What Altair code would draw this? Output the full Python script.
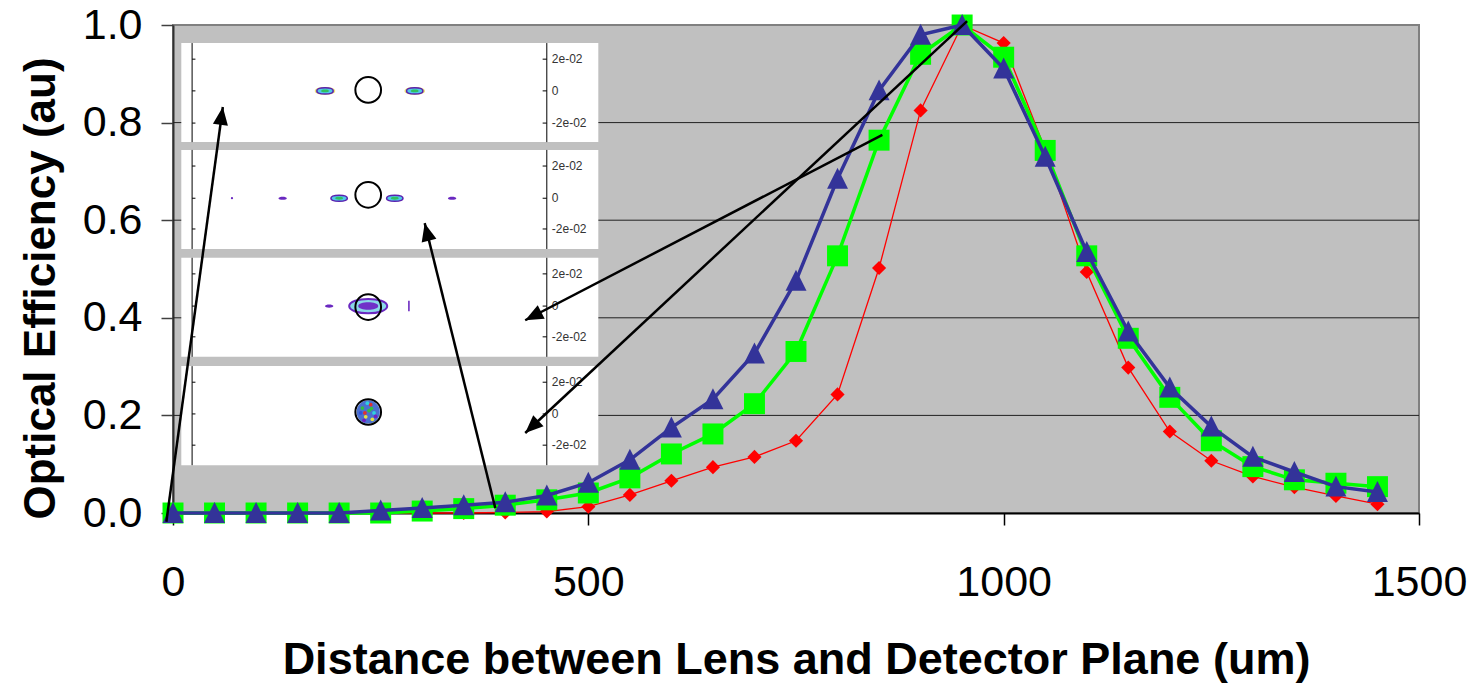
import math
import altair as alt
import pandas as pd

# ---- measured optical efficiency vs. lens-to-detector distance ----
distance_um = [0, 50, 100, 150, 200, 250, 300, 350, 400, 450,
               500, 550, 600, 650, 700, 750, 800, 850, 900, 950,
               1000, 1050, 1100, 1150, 1200, 1250, 1300, 1350, 1400, 1450]
eff_red = [0.0, 0.0, 0.0, 0.0, 0.0, 0.0, 0.0, 0.0, 0.001, 0.003,
           0.013, 0.037, 0.066, 0.094, 0.115, 0.148, 0.243, 0.502, 0.825, 1.0,
           0.963, 0.745, 0.494, 0.298, 0.167, 0.107, 0.075, 0.053, 0.035, 0.018]
eff_green = [0.0, 0.0, 0.0, 0.0, 0.0, 0.0, 0.004, 0.009, 0.016, 0.027,
             0.041, 0.072, 0.121, 0.162, 0.224, 0.331, 0.527, 0.764, 0.94, 1.0,
             0.934, 0.743, 0.527, 0.358, 0.237, 0.148, 0.095, 0.068, 0.061, 0.054]
eff_blue = [0.0, 0.0, 0.0, 0.0, 0.0, 0.005, 0.01, 0.016, 0.022, 0.036,
            0.062, 0.109, 0.175, 0.233, 0.327, 0.476, 0.685, 0.866, 0.98, 1.0,
            0.911, 0.73, 0.535, 0.372, 0.257, 0.177, 0.115, 0.084, 0.054, 0.043]

x_tick_values = [0, 500, 1000, 1500]
y_tick_values = [0.0, 0.2, 0.4, 0.6, 0.8, 1.0]
grid_levels = [0.2, 0.4, 0.6, 0.8]

# ---- spot-diagram insets (placed in data units) ----
inset_left, inset_right = 10, 512
inset_top = [0.963, 0.744, 0.523, 0.301]
inset_bottom = [0.760, 0.541, 0.320, 0.098]
inset_axis_l, inset_axis_r = 23, 450
inset_tick_rows = [[0.930, 0.865, 0.799], [0.711, 0.645, 0.582],
                   [0.490, 0.424, 0.361], [0.268, 0.203, 0.139]]
inset_tick_text = ["2e-02", "0", "-2e-02"]
aperture_x = 235
aperture_y = [0.867, 0.652, 0.422, 0.207]

# spot blobs: (x, y) per group
halo_x, halo_y = [183, 291], [0.865, 0.865]
ring_x, ring_y = [183, 291, 200, 267], [0.865, 0.865, 0.645, 0.645]
dash_x, dash_y = [132, 336, 188], [0.645, 0.645, 0.424]
dot_x, dot_y = [71], [0.645]
cluster_x, cluster_y = [235], [0.424]
bar_x, bar_y = [284], [0.424]
disc_x, disc_y = [235], [0.207]
speck_x = [228, 232, 238, 242, 230, 236, 240, 226, 234, 244, 231, 239]
speck_y = [0.215, 0.197, 0.222, 0.205, 0.190, 0.210, 0.192, 0.205, 0.225, 0.198, 0.205, 0.214]
speck_c = ["#30c040", "#e8e040", "#e03030", "#30d0e0", "#7020c0", "#30c040",
           "#e8e040", "#3050e0", "#30d0e0", "#7020c0", "#e03030", "#30c040"]

# ---- arrows linking curve points to insets ----
arrow_x0 = [-8, 388, 854, 956]
arrow_y0 = [-0.018, 0.010, 0.775, 1.008]
arrow_x1 = [60, 303, 424, 424]
arrow_y1 = [0.832, 0.594, 0.395, 0.164]

W, H = 1246, 488
FONT = "Liberation Sans"

xs = alt.Scale(domain=[0, 1500], nice=False, zero=False)
ys = alt.Scale(domain=[0, 1], nice=False, zero=False)

x_axis = alt.Axis(values=x_tick_values, format="d", grid=False, tickSize=12,
                  tickColor="black", tickWidth=1.5, domainColor="black", domainWidth=2,
                  labelFont=FONT, labelFontSize=43, labelColor="black",
                  labelBaseline="alphabetic", labelPadding=70, labelFlush=False,
                  labelOverlap=False, title="Distance between Lens and Detector Plane (um)",
                  titleFont=FONT, titleFontSize=45, titleFontWeight="bold",
                  titleColor="black", titleBaseline="alphabetic", titleY=160)
y_axis = alt.Axis(values=y_tick_values, format=".1f", grid=False, tickSize=12,
                  tickColor="#404040", tickWidth=1.5, domainColor="#303030", domainWidth=2,
                  labelFont=FONT, labelFontSize=43, labelColor="black",
                  labelPadding=19, labelFlush=False, labelOverlap=False,
                  title="Optical Efficiency (au)", titleFont=FONT, titleFontSize=44,
                  titleFontWeight="bold", titleColor="black",
                  titleBaseline="alphabetic", titleX=-119, titleY=263)


def X(f="x"):
    return alt.X(f"{f}:Q", scale=xs, axis=x_axis)


def Y(f="y"):
    return alt.Y(f"{f}:Q", scale=ys, axis=y_axis)


# horizontal grid
grid = alt.Chart(pd.DataFrame({"y": grid_levels})).mark_rule(
    color="#202020", strokeWidth=1).encode(
    x=alt.value(0), x2=alt.value(W), y=Y())
axis_carrier = alt.Chart(pd.DataFrame({"x": [0, 1500], "y": [0, 1]})).mark_point(
    opacity=0).encode(x=X(), y=Y())

panels = alt.Chart(pd.DataFrame({"x": [inset_left] * 4, "x2": [inset_right] * 4,
                                 "y": inset_top, "y2": inset_bottom})).mark_rect(
    color="white").encode(x=X(), x2="x2:Q", y=Y(), y2="y2:Q")

axis_lines = alt.Chart(pd.DataFrame({
    "x": [inset_axis_l] * 4 + [inset_axis_r] * 4,
    "y": inset_top * 2, "y2": inset_bottom * 2})).mark_rule(
    color="black", strokeWidth=1).encode(x=X(), y=Y(), y2="y2:Q")

tick_rows = []
for rows in inset_tick_rows:
    for r, t in zip(rows, inset_tick_text):
        tick_rows.append({"y": r, "t": t})
tick_df = pd.DataFrame(tick_rows)
left_ticks = alt.Chart(tick_df).transform_calculate(
    x=str(inset_axis_l), x2=str(inset_axis_l + 4)
).mark_rule(color="black", strokeWidth=1).encode(x=X(), x2="x2:Q", y=Y())
right_ticks = alt.Chart(tick_df).transform_calculate(
    x=str(inset_axis_r - 5), x2=str(inset_axis_r)
).mark_rule(color="black", strokeWidth=1).encode(x=X(), x2="x2:Q", y=Y())
tick_text = alt.Chart(tick_df).transform_calculate(x=str(inset_axis_r)).mark_text(
    align="left", baseline="middle", font=FONT, fontSize=12, color="#333333", dx=5
).encode(x=X(), y=Y(), text="t:N")

ELLIPSE = "M-1,0C-1,-0.5 1,-0.5 1,0C1,0.5 -1,0.5 -1,0Z"
BAR = "M-0.15,-1L0.15,-1L0.15,1L-0.15,1Z"


def pts(xv, yv, **kw):
    base = dict(opacity=1)
    base.update(kw)
    return alt.Chart(pd.DataFrame({"x": xv, "y": yv})).mark_point(**base).encode(x=X(), y=Y())


halos = pts(halo_x, halo_y, shape=ELLIPSE, size=420, filled=True, color="#ece070")
rings = pts(ring_x, ring_y, shape=ELLIPSE, size=270, filled=True, fill="#50c8e8",
            stroke="#5a20b0", strokeWidth=1.5)
cores = pts(ring_x, ring_y, shape=ELLIPSE, size=60, filled=True, color="#30c060")
dashes = pts(dash_x, dash_y, shape=ELLIPSE, size=70, filled=True, color="#6a28c0")
dots = pts(dot_x, dot_y, shape="circle", size=5, filled=True, color="#6a28c0")
cluster = pts(cluster_x, cluster_y, shape=ELLIPSE, size=1450, filled=True,
              fill="#8ad8e8", stroke="#6a28c0", strokeWidth=2)
cluster_core = pts(cluster_x, cluster_y, shape=ELLIPSE, size=400, filled=True, color="#7030c8")
bars = pts(bar_x, bar_y, shape=BAR, size=110, filled=True, color="#6a28c0")
disc = pts(disc_x, disc_y, shape="circle", size=540, filled=True, color="#4a70d0")
specks = alt.Chart(pd.DataFrame({"x": speck_x, "y": speck_y, "c": speck_c})).mark_point(
    shape="circle", size=14, filled=True, opacity=1).encode(
    x=X(), y=Y(), color=alt.Color("c:N", scale=None))
apertures = pts([aperture_x] * 4, aperture_y, shape="circle", size=660, filled=False,
                color="black", strokeWidth=2)

curve_df = pd.DataFrame({"x": distance_um, "red": eff_red,
                         "green": eff_green, "blue": eff_blue})


def series(field, color, width, shape, size):
    line = alt.Chart(curve_df).mark_line(color=color, strokeWidth=width).encode(
        x=X(), y=Y(field))
    mk = alt.Chart(curve_df).mark_point(shape=shape, size=size, filled=True,
                                        color=color, opacity=1, strokeWidth=0).encode(
        x=X(), y=Y(field))
    return [line, mk]


TRI = "M0,-1.05L-1,0.95L1,0.95Z"
red = series("red", "#ff0000", 1.3, "diamond", 200)
green = series("green", "#00ff00", 3.5, "square", 440)
blue = series("blue", "#333399", 3.5, TRI, 440)

# arrows: shaft rules + rotated heads with the tip at the target point
ang = []
for x0, y0, x1, y1 in zip(arrow_x0, arrow_y0, arrow_x1, arrow_y1):
    dx = (x1 - x0) * W / 1500
    dy = -(y1 - y0) * H
    ang.append(math.degrees(math.atan2(dx, -dy)) % 360)
arrow_df = pd.DataFrame({"x": arrow_x0, "y": arrow_y0, "x2": arrow_x1,
                         "y2": arrow_y1, "a": ang})
shafts = alt.Chart(arrow_df).mark_rule(color="black", strokeWidth=2.5).encode(
    x=X(), y=Y(), x2="x2:Q", y2="y2:Q")
heads = alt.Chart(arrow_df).mark_point(
    shape="M0,0L-0.42,1L0.42,1Z", size=1300, filled=True, color="black", opacity=1
).encode(x=X("x2"), y=Y("y2"), angle=alt.Angle("a:Q", scale=None))

chart = alt.layer(
    grid, axis_carrier, panels, axis_lines, left_ticks, right_ticks, tick_text,
    halos, rings, cores, dashes, dots, cluster, cluster_core, bars, disc, specks,
    apertures, *red, *green, *blue, shafts, heads
).properties(
    width=W, height=H,
    autosize=alt.AutoSizeParams(type="none"),
    padding={"left": 173, "top": 25, "right": 65, "bottom": 170},
    background="white",
).configure_view(
    fill="#c0c0c0", stroke="#808080", strokeWidth=2
)

chart.save("out.html", embed_options={"renderer": "svg", "actions": False})
